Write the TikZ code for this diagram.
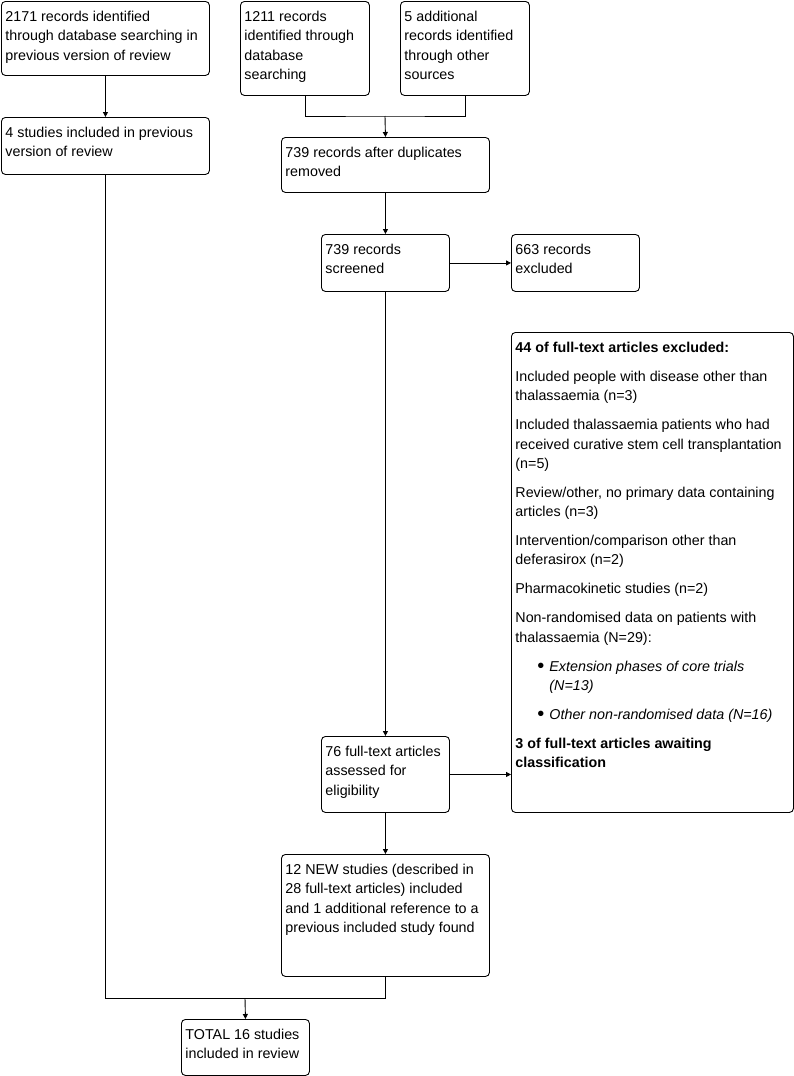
\documentclass[tikz,border=0pt]{standalone}
\usepackage{fontspec}
\setmainfont{Liberation Sans}
\usetikzlibrary{arrows.meta}
\hbadness=10000
\newcommand\bxt[3]{\parbox[t][#2pt][t]{#1pt}{\fontsize{14.3}{19.3}\selectfont\parindent=0pt\leftskip=4pt\rightskip=0pt plus 1fil\parskip=9.7pt\rule{0pt}{20pt}#3}}
\newcommand\bul{\leavevmode\llap{{\fontsize{20}{19.3}\selectfont\raisebox{-1.2pt}{\textbullet}}\hskip 5pt}}
\tikzset{
  box/.style={draw, line width=0.9pt, rounded corners=4pt, inner sep=0pt, anchor=north west},
  link/.style={line width=0.9pt},
  arr/.style={line width=0.9pt, -{Triangle[length=5pt,width=5pt]}}
}
\begin{document}
\begin{tikzpicture}[x=1pt,y=-1pt]
\useasboundingbox (0,0) rectangle (794,1076);
\node[box] (A) at (1,1) {\bxt{208}{74}{2171 records identified\\through database searching in\\previous version of review}};
\node[box] (B) at (240,1) {\bxt{129}{94}{1211 records\\identified through\\database\\searching}};
\node[box] (C) at (400,1) {\bxt{129}{94}{5 additional\\records identified\\through other\\sources}};
\node[box] (D) at (1,117) {\bxt{208}{57}{4 studies included in previous\\version of review}};
\node[box] (E) at (281,137) {\bxt{208}{55}{739 records after duplicates\\removed}};
\node[box] (F) at (321,234) {\bxt{128}{57}{739 records\\screened}};
\node[box] (G) at (511,234) {\bxt{128}{57}{663 records\\excluded}};
\node[box] (H) at (511,332) {\bxt{282}{480}{\textbf{44 of full-text articles excluded:}\par
Included people with disease other than\\thalassaemia (n=3)\par
Included thalassaemia patients who had\\received curative stem cell transplantation\\(n=5)\par
Review/other, no primary data containing\\articles (n=3)\par
Intervention/comparison other than\\deferasirox (n=2)\par
Pharmacokinetic studies (n=2)\par
Non-randomised data on patients with\\thalassaemia (N=29):\par
{\leftskip=38pt \bul\textit{Extension phases of core trials\\(N=13)}\par}
{\leftskip=38pt \bul\textit{Other non-randomised data (N=16)}\par}
\textbf{3 of full-text articles awaiting\\classification}}};
\node[box] (I) at (321,736) {\bxt{128}{76}{76 full-text articles\\assessed for\\eligibility}};
\node[box] (J) at (281,854) {\bxt{208}{122}{12 NEW studies (described in\\28 full-text articles) included\\and 1 additional reference to a\\previous included study found}};
\node[box] (K) at (181,1019) {\bxt{128}{56}{TOTAL 16 studies\\included in review}};
\draw[arr] (A.south) -- (D.north);
\coordinate (j1) at (385,116);
\draw[link] (B.south) |- (j1) -| (C.south);
\draw[arr] (j1) -- (E.north);
\draw[arr] (E.south) -- (F.north);
\draw[arr] (F.east) -- (G.west);
\draw[arr] (F.south) -- (I.north);
\draw[arr] (I.east) -- (I.east -| H.west);
\draw[arr] (I.south) -- (J.north);
\coordinate (j2) at (245,998);
\draw[link] (D.south) |- (j2) -| (J.south);
\draw[arr] (j2) -- (K.north);
\end{tikzpicture}
\end{document}
